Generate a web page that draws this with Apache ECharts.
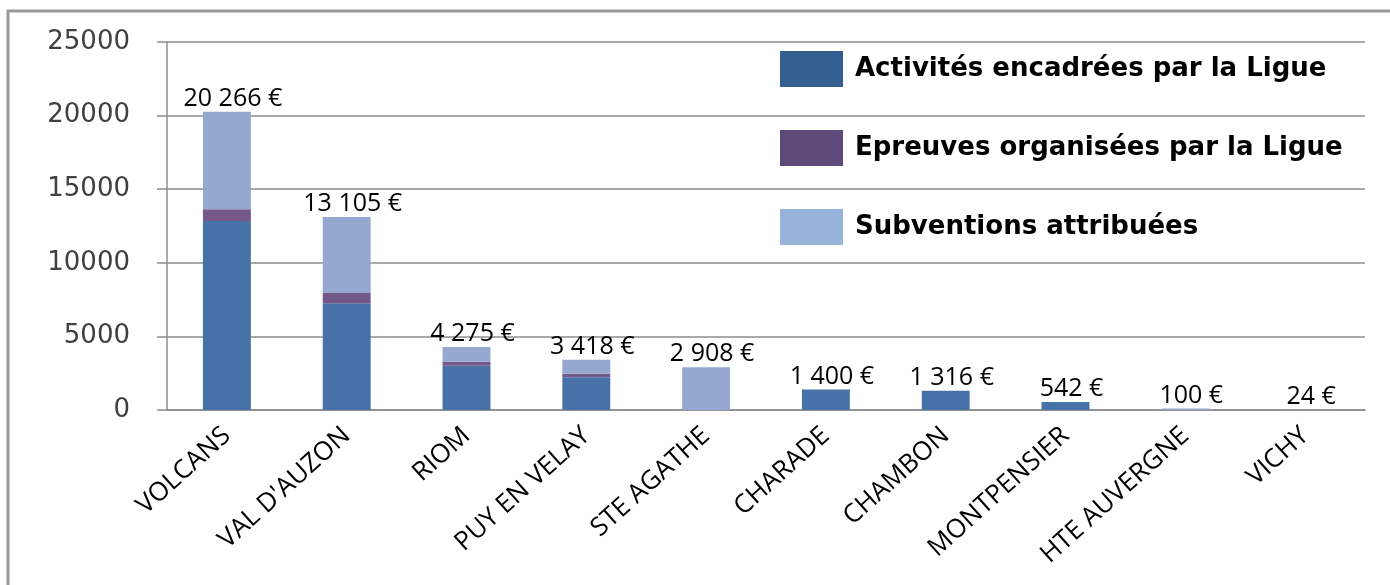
<!DOCTYPE html>
<html>
<head>
<meta charset="utf-8">
<script src="https://cdn.jsdelivr.net/npm/echarts@6/dist/echarts.min.js"></script>
<style>
    html, body { margin: 0; padding: 0; background: #fff; }
    #chart { width: 1390px; height: 585px; }
</style>
</head>
<body>
<div id="chart"></div>
<script>
// clubs
var clubs = ['VOLCANS', "VAL D'AUZON", 'RIOM', 'PUY EN VELAY', 'STE AGATHE', 'CHARADE', 'CHAMBON', 'MONTPENSIER', 'HTE AUVERGNE', 'VICHY'];
// montants par type
var activites = [12840, 7250, 3000, 2220, 0, 1400, 1316, 542, 0, 0];
var epreuves = [795, 700, 270, 250, 0, 0, 0, 0, 0, 0];
var subventions = [6631, 5155, 1005, 948, 2908, 0, 0, 0, 100, 24];
// totaux affichés au-dessus des barres
var totaux = [20266, 13105, 4275, 3418, 2908, 1400, 1316, 542, 100, 24];
var yTicks = [0, 5000, 10000, 15000, 20000, 25000];

var noms = ['Activités encadrées par la Ligue', 'Epreuves organisées par la Ligue', 'Subventions attribuées'];
var couleursBarres = ['#4672a8', '#755889', '#95a9d0'];
var couleursLegende = ['#335e90', '#5e4a7a', '#97b3d9'];

function euros(v) {
    return String(v).replace(/\B(?=(\d{3})+(?!\d))/g, ' ') + ' €';
}

var myChart = echarts.init(document.getElementById('chart'));

var option = {
    animation: false,
    graphic: [{
        type: 'rect',
        z: -10,
        shape: { x: 8, y: 11, width: 1420, height: 620 },
        style: { fill: 'none', stroke: '#9a9a9a', lineWidth: 3 }
    }],
    grid: { left: 167, top: 42, right: 25, bottom: 175 },
    legend: {
        orient: 'vertical',
        left: 775,
        top: 46,
        itemWidth: 63,
        itemHeight: 36,
        itemGap: 43,
        icon: 'rect',
        selectedMode: false,
        data: noms.map(function (n, i) {
            return { name: n, itemStyle: { color: couleursLegende[i] } };
        }),
        textStyle: {
            fontFamily: 'DejaVu Sans',
            fontWeight: 'bold',
            fontSize: 26,
            color: '#000',
            padding: [0, 0, 0, 7]
        }
    },
    xAxis: {
        type: 'category',
        data: clubs,
        axisLine: { lineStyle: { color: '#8c8c8c', width: 1.5 } },
        axisTick: { length: 7, lineStyle: { color: '#8c8c8c', width: 1.5 } },
        axisLabel: {
            rotate: 42,
            margin: 22,
            interval: 0,
            fontFamily: 'Open Sans',
            fontSize: 26,
            color: '#000'
        }
    },
    yAxis: {
        type: 'value',
        min: yTicks[0],
        max: yTicks[yTicks.length - 1],
        interval: 5000,
        axisLine: { show: true, lineStyle: { color: '#8c8c8c', width: 1.5 } },
        axisTick: { show: true, length: 10, lineStyle: { color: '#8c8c8c', width: 1.5 } },
        splitLine: { lineStyle: { color: '#8c8c8c', width: 1.5 } },
        axisLabel: {
            margin: 37,
            fontFamily: 'DejaVu Sans',
            fontSize: 26,
            color: '#404040',
            formatter: function (v) { return String(v); }
        }
    },
    series: [
        {
            name: noms[0],
            type: 'bar',
            stack: 'total',
            barWidth: '40%',
            data: activites,
            itemStyle: { color: couleursBarres[0] }
        },
        {
            name: noms[1],
            type: 'bar',
            stack: 'total',
            barWidth: '40%',
            data: epreuves,
            itemStyle: { color: couleursBarres[1] }
        },
        {
            name: noms[2],
            type: 'bar',
            stack: 'total',
            barWidth: '40%',
            data: subventions,
            itemStyle: { color: couleursBarres[2] }
        },
        {
            name: 'Total',
            type: 'scatter',
            data: totaux,
            symbolSize: 1,
            itemStyle: { color: '#fff', opacity: 0 },
            z: 10,
            label: {
                show: true,
                position: 'top',
                distance: 0,
                offset: [6, 0],
                fontFamily: 'Open Sans',
                fontSize: 25,
                lineHeight: 25,
                color: '#000',
                opacity: 1,
                formatter: function (p) { return euros(p.value); }
            }
        }
    ]
};

myChart.setOption(option);
</script>
</body>
</html>
